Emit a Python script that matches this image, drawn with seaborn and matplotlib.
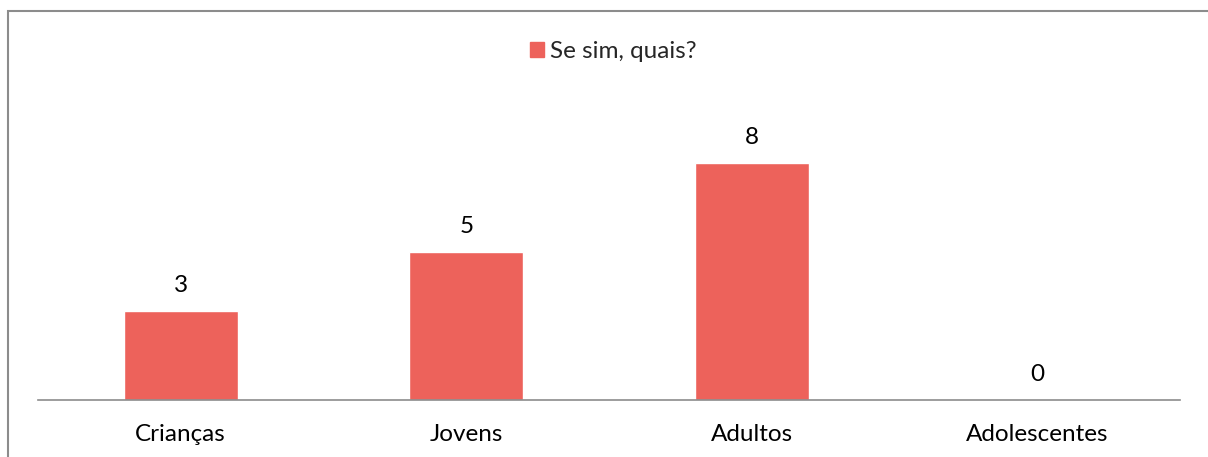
import pandas as pd
import seaborn as sns
import matplotlib
matplotlib.use('Agg')
import matplotlib.pyplot as plt
from matplotlib.patches import Rectangle

categories = ['Crianças', 'Jovens', 'Adultos', 'Adolescentes']
values = [3, 5, 8, 0]
series_name = 'Se sim, quais?'

df = pd.DataFrame({'categoria': categories, 'valor': values})

sns.set_theme(style='white')
plt.rcParams['font.family'] = ['Lato', 'DejaVu Sans']

bar_color = '#ED625B'
font_size = 17.5

fig = plt.figure(figsize=(12.08, 4.57), dpi=100)
# axes: x 38..1180 px, baseline at y=400
ax = fig.add_axes([38 / 1208, (457 - 400) / 457, 1142 / 1208, 294 / 457])

sns.barplot(data=df, x='categoria', y='valor', color=bar_color,
            width=0.4, saturation=1, ax=ax)

ax.set_ylim(0, 9.93)
ax.set_xlim(-0.5, len(categories) - 0.5)
ax.set_xlabel('')
ax.set_ylabel('')
ax.set_yticks([])
ax.tick_params(axis='x', length=0, pad=17, labelsize=font_size, labelcolor='black')
for side in ['top', 'left', 'right']:
    ax.spines[side].set_visible(False)
ax.spines['bottom'].set_color('#8C8C8C')
ax.spines['bottom'].set_linewidth(1.2)

# data labels above bars
for i, v in enumerate(values):
    ax.annotate(str(v), (i, v), xytext=(0, 11), textcoords='offset points',
                ha='center', va='bottom', fontsize=font_size, color='black')

# legend
handle = Rectangle((0, 0), 1, 1, color=bar_color)
fig.legend([handle], [series_name], loc='center', bbox_to_anchor=(613 / 1208, 1 - 52 / 457),
           frameon=False, fontsize=font_size, handlelength=0.58, handleheight=0.58,
           handletextpad=0.25)

# outer chart border (cut off on right and bottom)
fig.patches.append(Rectangle((8 / 1208, -0.1), 1.2, 1 - 11 / 457 + 0.1,
                             transform=fig.transFigure, fill=False,
                             edgecolor='#8C8C8C', linewidth=1.5))

plt.savefig('out.png', dpi=100)
plt.close()
